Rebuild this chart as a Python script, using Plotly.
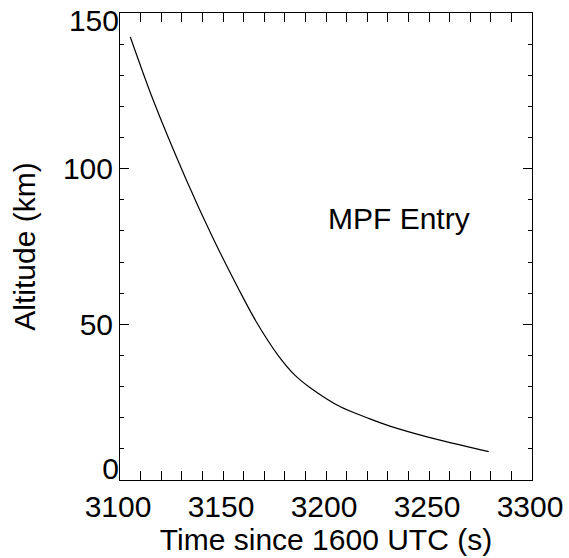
import plotly.graph_objects as go

# Data
time_s = [3105, 3116, 3132, 3145, 3158, 3166, 3177, 3185, 3192, 3207, 3221, 3231, 3250, 3279]
altitude_km = [142.3, 122.2, 96.7, 77.9, 60.8, 51.0, 39.8, 33.6, 29.8, 23.5, 19.7, 17.3, 13.7, 9.1]
x_ticks = [3100, 3150, 3200, 3250, 3300]
y_ticks = [0, 50, 100, 150]
y_mid_labels = ["", "50", "100", ""]
# end labels sit slightly inside the axis range in the reference
y_end_label_pos = [3.7, 147.6]
y_end_labels = ["0", "150"]
label_text = "MPF Entry"
label_x, label_y = 3200, 84

FONT = "Liberation Sans, Arial, Helvetica, sans-serif"

fig = go.Figure()
fig.add_trace(go.Scatter(
    x=time_s, y=altitude_km, mode="lines",
    line=dict(color="black", width=1.2, shape="spline", smoothing=0.8),
    hoverinfo="skip", showlegend=False,
))
fig.add_trace(go.Scatter(x=[], y=[], yaxis="y2", mode="lines",
                         hoverinfo="skip", showlegend=False))

fig.add_annotation(x=label_x, y=label_y, text=label_text, showarrow=False,
                   xanchor="left", yanchor="middle", xref="x", yref="y",
                   font=dict(family=FONT, size=30, color="black"))

tickfont = dict(family=FONT, size=30, color="black")
axis_common = dict(
    showgrid=False, zeroline=False, showline=True, linecolor="black", linewidth=1,
    mirror="allticks", ticks="inside", ticklen=9, tickwidth=1, tickcolor="black",
    tickfont=tickfont, ticklabeloverflow="allow",
)

fig.update_layout(
    xaxis=dict(
        range=[3100, 3300], tickvals=x_ticks, ticktext=[str(v) for v in x_ticks],
        ticklabelshift=-2,
        minor=dict(dtick=10, ticklen=4, tickwidth=1, tickcolor="black", ticks="inside", showgrid=False),
        title=dict(text="Time since 1600 UTC (s)", font=dict(family=FONT, size=30, color="black"), standoff=6),
        automargin=False, **axis_common,
    ),
    yaxis=dict(
        range=[0, 150], tickvals=y_ticks, ticktext=y_mid_labels,
        minor=dict(dtick=10, ticklen=4, tickwidth=1, tickcolor="black", ticks="inside", showgrid=False),
        title=dict(text="Altitude (km)", font=dict(family=FONT, size=30, color="black"), standoff=18),
        automargin=False, **axis_common,
    ),
    yaxis2=dict(
        range=[0, 150], overlaying="y", side="left", showline=False, showgrid=False,
        zeroline=False, ticks="", tickvals=y_end_label_pos, ticktext=y_end_labels,
        tickfont=tickfont, ticklabeloverflow="allow", automargin=False,
    ),
    width=569, height=558,
    margin=dict(l=120, r=37, t=13, b=78, pad=0),
    paper_bgcolor="white", plot_bgcolor="white",
    font=dict(family=FONT, color="black"),
)

fig.write_html("out.html", config={"displayModeBar": False},
               post_script="document.body.style.margin='0';")
